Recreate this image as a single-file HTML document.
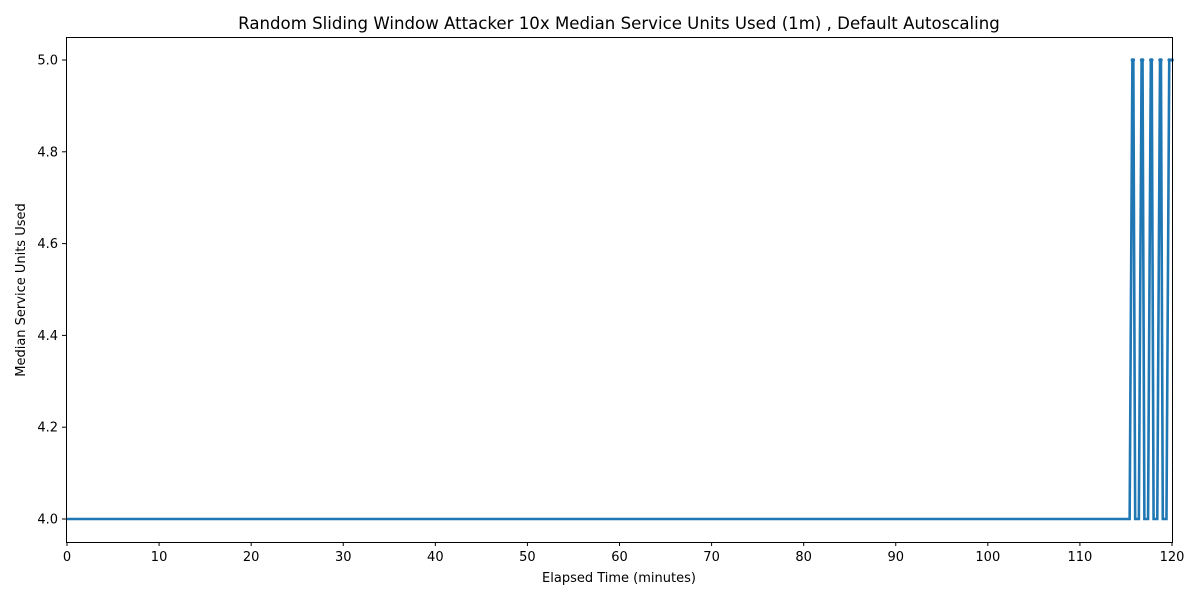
<!DOCTYPE html>
<html><head><meta charset="utf-8"><style>
body{margin:0;background:#fff;}
svg text{font-family:"DejaVu Sans","Liberation Sans",sans-serif;fill:#000;}
</style></head><body>
<svg id="chart" width="1200" height="600" xmlns="http://www.w3.org/2000/svg">
<rect width="1200" height="600" fill="#fff"/>
<g id="plot"></g>
<text x="619" y="29" font-size="16.6" text-anchor="middle">Random Sliding Window Attacker 10x Median Service Units Used (1m) , Default Autoscaling</text>
<text x="619" y="582" font-size="13" text-anchor="middle">Elapsed Time (minutes)</text>
<text x="25" y="290" font-size="13" text-anchor="middle" transform="rotate(-90 25 290)">Median Service Units Used</text>
</svg>
<script>
const xTicks = [0,10,20,30,40,50,60,70,80,90,100,110,120];
const yTicks = [4.0,4.2,4.4,4.6,4.8,5.0];
const times = [0, 115.4, 115.7, 115.8, 116.0, 116.4, 116.7, 116.8, 117.0, 117.4, 117.7, 117.8, 118.0, 118.4, 118.7, 118.8, 119.0, 119.4, 119.7, 120];
const values = [4, 4, 5, 5, 4, 4, 5, 5, 4, 4, 5, 5, 4, 4, 5, 5, 4, 4, 5, 5];
const X0=67,X1=1172,Y0=519,Y1=60;
const xs=v=>X0+(v-0)/(120-0)*(X1-X0);
const ys=v=>Y0+(v-4)/(5-4)*(Y1-Y0);
const ns="http://www.w3.org/2000/svg";
const g=document.getElementById('plot');
function mk(t,a){const e=document.createElementNS(ns,t);for(const k in a)e.setAttribute(k,a[k]);g.appendChild(e);return e;}
let d='';
times.forEach((t,i)=>{d+=(i?'L':'M')+xs(t).toFixed(2)+' '+ys(values[i]).toFixed(2);});
const line=mk('path',{d:d,fill:'none',stroke:'#1f77b4','stroke-width':2.6});


times.forEach((t,i)=>{
  if(values[i]===5){const c=mk('circle',{cx:xs(t),cy:ys(values[i]),r:1.8,fill:'#1f77b4'});
  
  }
});
const frame=mk('rect',{x:66.5,y:37.5,width:1106,height:505,fill:'none',stroke:'#000','stroke-width':1});


xTicks.forEach(v=>{
  const x=xs(v);
  mk('line',{x1:x,x2:x,y1:542,y2:546,stroke:'#000'});
  const t=mk('text',{x:x,y:561,'font-size':13,'text-anchor':'middle'});t.textContent=v;
  
  
});
yTicks.forEach(v=>{
  const y=ys(v);
  mk('line',{x1:62,x2:66.5,y1:y,y2:y,stroke:'#000'});
  const t=mk('text',{x:58,y:y+4.5,'font-size':13,'text-anchor':'end'});t.textContent=v.toFixed(1);
  
  
});
</script>
</body></html>
